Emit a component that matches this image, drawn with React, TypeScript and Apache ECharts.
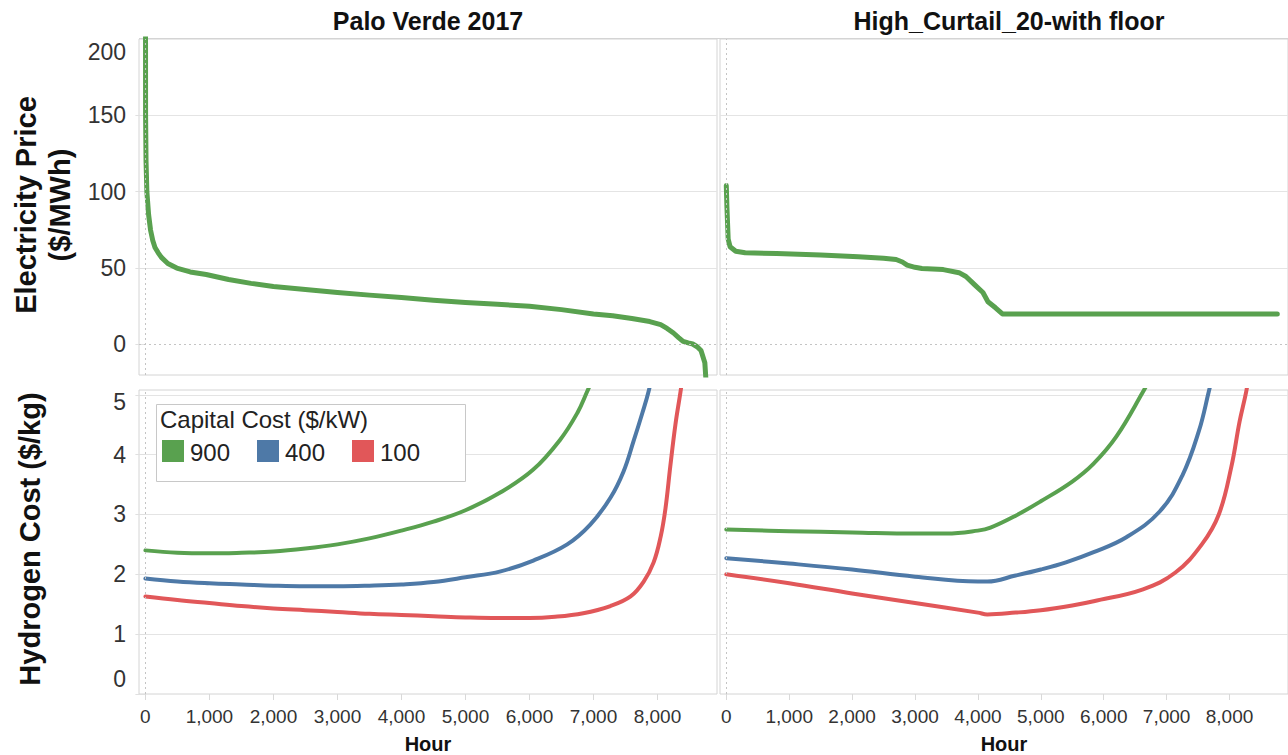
import React, { useEffect, useRef } from "react";
import * as echarts from "echarts";

// ---- Data ----
const panelTitles = ["Palo Verde 2017", "High_Curtail_20-with floor"];
const xTicks = [0, 1000, 2000, 3000, 4000, 5000, 6000, 7000, 8000];
const priceTicks = [0, 50, 100, 150];
const priceLabels = [0, 50, 100, 150, 200];
const h2Ticks = [0, 1, 2, 3, 4, 5];

// Electricity price duration curves
const pvHours = [0, 3, 10, 23, 50, 80, 115, 150, 200, 250, 350, 490, 700, 950, 1300, 1650, 2000, 2500, 3000, 3500, 4000, 4500, 5000, 5500, 6000, 6500, 7000, 7300, 7600, 7880, 8050, 8150, 8250, 8330, 8400, 8480, 8550, 8620, 8680, 8740, 8760];
const pvPrice = [320, 150, 120, 100, 85, 75, 68, 63.5, 60, 57, 53, 50, 47.5, 45.8, 42.5, 40, 38, 36, 34, 32.3, 30.7, 29, 27.5, 26.3, 25, 22.8, 20, 18.8, 17, 15, 13, 10.5, 7.5, 4.5, 2, 1, 0.3, -1.5, -4, -12, -25];

const hcHours = [0, 10, 30, 60, 150, 300, 800, 1500, 2100, 2500, 2700, 2800, 2875, 3000, 3110, 3450, 3700, 3810, 3900, 3950, 4080, 4160, 4280, 4390, 8760];
const hcPrice = [104, 90, 69, 64, 61, 60, 59.5, 58.5, 57.5, 56.5, 55.6, 54, 52, 50.5, 49.7, 49, 47, 44.5, 41, 39, 34, 28, 24, 20, 20];

// Hydrogen cost, Palo Verde 2017
const pv900Hours = [0, 500, 1000, 1500, 2000, 2500, 3000, 3500, 4000, 4500, 5000, 5550, 6060, 6480, 6750, 6900, 7000];
const pv900Cost = [2.4, 2.36, 2.35, 2.36, 2.38, 2.43, 2.5, 2.6, 2.73, 2.88, 3.07, 3.37, 3.75, 4.25, 4.7, 5.05, 5.3];
const pv400Hours = [0, 500, 1000, 1500, 2000, 2500, 3000, 3500, 4000, 4500, 5000, 5550, 6060, 6590, 6950, 7265, 7470, 7625, 7765, 7860, 7950];
const pv400Cost = [1.93, 1.88, 1.85, 1.83, 1.81, 1.8, 1.8, 1.81, 1.83, 1.87, 1.95, 2.05, 2.23, 2.5, 2.83, 3.28, 3.72, 4.22, 4.7, 5.05, 5.5];
const pv100Hours = [0, 500, 1000, 1500, 2000, 2500, 3000, 3500, 4000, 4500, 5000, 5500, 6000, 6400, 6840, 7265, 7580, 7780, 7940, 8050, 8125, 8200, 8280, 8360, 8420];
const pv100Cost = [1.63, 1.57, 1.52, 1.47, 1.43, 1.4, 1.37, 1.34, 1.32, 1.3, 1.28, 1.27, 1.27, 1.29, 1.35, 1.47, 1.63, 1.87, 2.2, 2.63, 3.1, 3.8, 4.5, 5.05, 5.5];

// Hydrogen cost, High_Curtail_20-with floor
const hc900Hours = [0, 1000, 2000, 3000, 3500, 4000, 4200, 4600, 5000, 5500, 5840, 6200, 6625, 6750];
const hc900Cost = [2.75, 2.72, 2.7, 2.68, 2.68, 2.73, 2.78, 2.98, 3.22, 3.55, 3.85, 4.3, 5.05, 5.3];
const hc400Hours = [0, 1000, 2000, 3000, 4000, 4150, 4600, 5000, 5400, 5840, 6360, 6890, 7250, 7515, 7670, 7750];
const hc400Cost = [2.27, 2.18, 2.08, 1.96, 1.88, 1.88, 1.98, 2.08, 2.2, 2.37, 2.62, 3.05, 3.65, 4.4, 5.05, 5.4];
const hc100Hours = [0, 1000, 2000, 3000, 4000, 4150, 4600, 5000, 5500, 5840, 6625, 7140, 7560, 7830, 8030, 8160, 8265, 8320];
const hc100Cost = [2.0, 1.85, 1.68, 1.52, 1.36, 1.33, 1.36, 1.4, 1.48, 1.55, 1.75, 2.03, 2.5, 3.0, 3.8, 4.55, 5.05, 5.4];

const legendTitle = "Capital Cost ($/kW)";
const capitalCosts = ["900", "400", "100"];
const colors = ["#59A14F", "#4E79A7", "#E15759"];

// ---- Styling ----
const FONT = 'Arial, "Liberation Sans", Helvetica, sans-serif';
const GRID_BORDER = "#d4d4d4";
const GRID_LINE = "#e4e4e4";
const TICK_COLOR = "#333333";

const pairs = (xs: number[], ys: number[]) => xs.map((x, i) => [x, ys[i]]);

export default function App() {
  const ref = useRef<HTMLDivElement>(null);

  useEffect(() => {
    if (!ref.current) return;
    const chart = echarts.init(ref.current, null, { renderer: "svg" });

    const grids = [
      { left: 139, top: 39, width: 578, height: 336 },
      { left: 720, top: 39, width: 578, height: 336 },
      { left: 139, top: 390, width: 578, height: 305 },
      { left: 720, top: 390, width: 578, height: 305 },
    ].map((g) => ({ ...g, show: true, borderColor: GRID_BORDER, borderWidth: 1, containLabel: false }));

    const xAxis = [0, 1, 2, 3].map((gi) => {
      const bottom = gi >= 2;
      return {
        type: "value",
        gridIndex: gi,
        min: -100,
        max: 8930,
        axisLine: { show: false },
        splitLine: { show: false },
        axisTick: {
          show: bottom,
          customValues: xTicks,
          length: 6,
          lineStyle: { color: "#d9d9d9" },
        },
        axisLabel: {
          show: bottom,
          customValues: xTicks,
          formatter: (v: number) => v.toLocaleString("en-US"),
          fontSize: 19,
          color: TICK_COLOR,
          fontFamily: FONT,
          margin: 13,
        },
        name: bottom ? "Hour" : "",
        nameLocation: "middle",
        nameGap: 40,
        nameTextStyle: { fontWeight: "bold", fontSize: 20, color: "#111", fontFamily: FONT },
      };
    });

    const yAxis = [0, 1, 2, 3].map((gi) => {
      const top = gi < 2;
      const left = gi % 2 === 0;
      const labelStyle = { fontSize: 23, color: TICK_COLOR, fontFamily: FONT };
      return {
        type: "value",
        gridIndex: gi,
        min: top ? -20 : 0,
        max: top ? 200 : 5.08,
        axisLine: { show: false },
        axisTick: {
          show: left,
          customValues: top ? priceTicks : h2Ticks,
          length: 10,
          lineStyle: { color: "#e0e0e0" },
        },
        splitLine: {
          show: true,
          lineStyle: {
            color: top
              ? ["rgba(0,0,0,0)", GRID_LINE, GRID_LINE, GRID_LINE]
              : ["rgba(0,0,0,0)", GRID_LINE, GRID_LINE, GRID_LINE, GRID_LINE, GRID_LINE],
            width: 1,
          },
        },
        axisLabel: {
          show: left,
          customValues: top ? priceLabels : h2Ticks,
          margin: 13,
          ...labelStyle,
          formatter: (v: number) => {
            if (top && v === 200) return "{dn|200}";
            if (!top && v === 5) return "{dn5|5}";
            if (!top && v === 0) return "{up|0}";
            return String(v);
          },
          rich: {
            dn: { ...labelStyle, padding: [26, 0, 0, 0] },
            dn5: { ...labelStyle, padding: [14, 0, 0, 0] },
            up: { ...labelStyle, padding: [0, 0, 30, 0] },
          },
        },
      };
    });

    const zeroLines = (gi: number, withY: boolean) => ({
      type: "line",
      xAxisIndex: gi,
      yAxisIndex: gi,
      data: [],
      z: 1,
      silent: true,
      markLine: {
        silent: true,
        symbol: ["none", "none"],
        label: { show: false },
        lineStyle: { type: [2, 3], color: "#c4c4c4", width: 1 },
        data: withY ? [{ xAxis: 0 }, { yAxis: 0 }] : [{ xAxis: 0 }],
      },
    });

    const curve = (gi: number, name: string, color: string, data: number[][], width: number, smooth: number | false) => ({
      type: "line",
      name,
      xAxisIndex: gi,
      yAxisIndex: gi,
      data,
      z: 3,
      showSymbol: false,
      symbol: "none",
      smooth,
      clip: true,
      lineStyle: { color, width, cap: "round", join: "round" },
      itemStyle: { color },
    });

    const series = [
      zeroLines(0, true),
      zeroLines(1, true),
      zeroLines(2, false),
      zeroLines(3, false),
      curve(0, "Palo Verde price", colors[0], pairs(pvHours, pvPrice), 5, false),
      curve(1, "High_Curtail price", colors[0], pairs(hcHours, hcPrice), 5, false),
      curve(2, "900", colors[0], pairs(pv900Hours, pv900Cost), 4, 0.4),
      curve(2, "400", colors[1], pairs(pv400Hours, pv400Cost), 4, 0.4),
      curve(2, "100", colors[2], pairs(pv100Hours, pv100Cost), 4, 0.4),
      curve(3, "900", colors[0], pairs(hc900Hours, hc900Cost), 4, 0.4),
      curve(3, "400", colors[1], pairs(hc400Hours, hc400Cost), 4, 0.4),
      curve(3, "100", colors[2], pairs(hc100Hours, hc100Cost), 4, 0.4),
    ];

    const legendItemX = [162, 257, 352];
    const graphic: any[] = [
      {
        type: "text", x: 428, y: 21,
        style: { text: panelTitles[0], font: `bold 25px ${FONT}`, fill: "#111", align: "center", verticalAlign: "middle" },
      },
      {
        type: "text", x: 1009, y: 21,
        style: { text: panelTitles[1], font: `bold 25px ${FONT}`, fill: "#111", align: "center", verticalAlign: "middle" },
      },
      {
        type: "line", shape: { x1: 139, y1: 38.5, x2: 1288, y2: 38.5 },
        style: { stroke: GRID_BORDER, lineWidth: 1 }, silent: true,
      },
      {
        type: "text", x: 26, y: 205, rotation: Math.PI / 2,
        style: { text: "Electricity Price", font: `bold 29px ${FONT}`, fill: "#111", align: "center", verticalAlign: "middle" },
      },
      {
        type: "text", x: 60, y: 205, rotation: Math.PI / 2,
        style: { text: "($/MWh)", font: `bold 29px ${FONT}`, fill: "#111", align: "center", verticalAlign: "middle" },
      },
      {
        type: "text", x: 30, y: 539, rotation: Math.PI / 2,
        style: { text: "Hydrogen Cost ($/kg)", font: `bold 29px ${FONT}`, fill: "#111", align: "center", verticalAlign: "middle" },
      },
      {
        type: "rect", shape: { x: 156.5, y: 404.5, width: 309, height: 77 },
        style: { fill: "#fff", stroke: "#c8c8c8", lineWidth: 1 }, z: 10,
      },
      {
        type: "text", x: 160, y: 419, z: 11,
        style: { text: legendTitle, font: `24px ${FONT}`, fill: "#222", align: "left", verticalAlign: "middle" },
      },
      ...capitalCosts.flatMap((c, i) => [
        {
          type: "rect", z: 11, shape: { x: legendItemX[i], y: 440, width: 22, height: 22 },
          style: { fill: colors[i] },
        },
        {
          type: "text", x: legendItemX[i] + 28, y: 452, z: 11,
          style: { text: c, font: `24px ${FONT}`, fill: "#222", align: "left", verticalAlign: "middle" },
        },
      ]),
    ];

    chart.setOption({
      animation: false,
      backgroundColor: "#fff",
      textStyle: { fontFamily: FONT },
      grid: grids,
      xAxis,
      yAxis,
      series,
      graphic,
    });

    return () => chart.dispose();
  }, []);

  return (
    <div
      ref={ref}
      style={{ position: "fixed", left: 0, top: 0, width: 1288, height: 755, background: "#fff" }}
    />
  );
}
